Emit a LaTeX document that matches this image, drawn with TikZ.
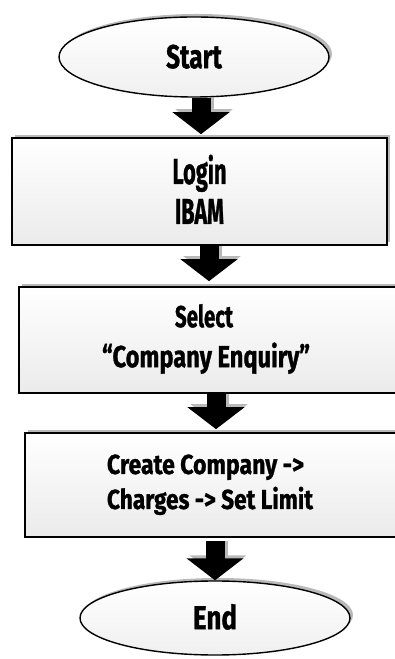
\documentclass[tikz,border=0pt]{standalone}
\usepackage{fontspec}
\usepackage{graphicx}
\newfontfamily\agency[BoldFeatures={FakeBold=1.2}]{Fira Sans}
\newcommand\fitln[3]{\resizebox{#1pt}{#2pt}{\agency\bfseries\raisebox{0pt}[\fontcharht\font`H]{#3}}}
\usetikzlibrary{shapes.geometric,shadows,arrows.meta}
\tikzset{
  stepbox/.style={draw=black, line width=1.6pt, rectangle, inner sep=0pt,
    top color=white, bottom color=gray!16,
    drop shadow={shadow xshift=3pt, shadow yshift=3pt, fill=gray!55, opacity=1},
    align=center},
  termbox/.style={draw=black, line width=1.4pt, ellipse, inner sep=0pt,
    top color=white, bottom color=gray!12,
    drop shadow={shadow xshift=3pt, shadow yshift=3pt, fill=gray!55, opacity=1}},
  bigarrow/.style={draw=black, line width=19pt,
    -{Triangle[width=56pt,length=22pt]}},
  arrowshade/.style={draw=gray!55, line width=19pt,
    -{Triangle[width=56pt,length=22pt]}},
}
\begin{document}
\begin{tikzpicture}[x=1pt,y=1pt]
\useasboundingbox (0,0) rectangle (394,659);
\fill[white] (0,0) rectangle (394,659);

\node[termbox, minimum width=270pt, minimum height=80pt] (start) at (194,602)
  {\fitln{55.7}{23}{Start}};
\node[stepbox, minimum width=375pt, minimum height=107pt,
  font=\fontsize{20}{40}\selectfont] (login) at (199.5,467.5)
  {\fitln{54}{25}{Login}\\\fitln{49}{25}{IBAM}};
\node[stepbox, minimum width=378pt, minimum height=106pt,
  font=\fontsize{20}{40}\selectfont] (select) at (208,319)
  {\hspace*{-8pt}\fitln{58}{21}{Select}\\\hspace*{-4pt}\fitln{208}{21}{“Company Enquiry”}};
\node[stepbox, minimum width=378pt, minimum height=104pt,
  font=\fontsize{20}{35}\selectfont] (create) at (214,174)
  {\hspace*{-17pt}\fitln{197}{19}{Create Company ->}\\\hspace*{-8pt}\fitln{206}{19}{Charges -> Set Limit}};
\node[termbox, minimum width=270pt, minimum height=74pt] (end) at (215,41)
  {\fitln{44}{23}{End}};

\coordinate (x1) at (201,0);
\coordinate (x2) at (209,0);
\coordinate (x3) at (216,0);
\coordinate (x4) at (215,0);

\draw[arrowshade] ([xshift=3pt]start.south -| x1) -- ([xshift=3pt,yshift=6pt]login.north -| x1);
\draw[bigarrow] (start.south -| x1) -- ([yshift=3pt]login.north -| x1);

\draw[arrowshade] ([xshift=3pt]login.south -| x2) -- ([xshift=3pt,yshift=8pt]select.north -| x2);
\draw[bigarrow] (login.south -| x2) -- ([yshift=5pt]select.north -| x2);

\draw[arrowshade] ([xshift=3pt]select.south -| x3) -- ([xshift=3pt,yshift=6pt]create.north -| x3);
\draw[bigarrow] (select.south -| x3) -- ([yshift=3pt]create.north -| x3);

\draw[arrowshade] ([xshift=3pt,yshift=-3pt]create.south -| x4) -- ([xshift=3pt,yshift=3pt]end.north -| x4);
\draw[bigarrow] ([yshift=-3pt]create.south -| x4) -- (end.north -| x4);
\end{tikzpicture}
\end{document}
